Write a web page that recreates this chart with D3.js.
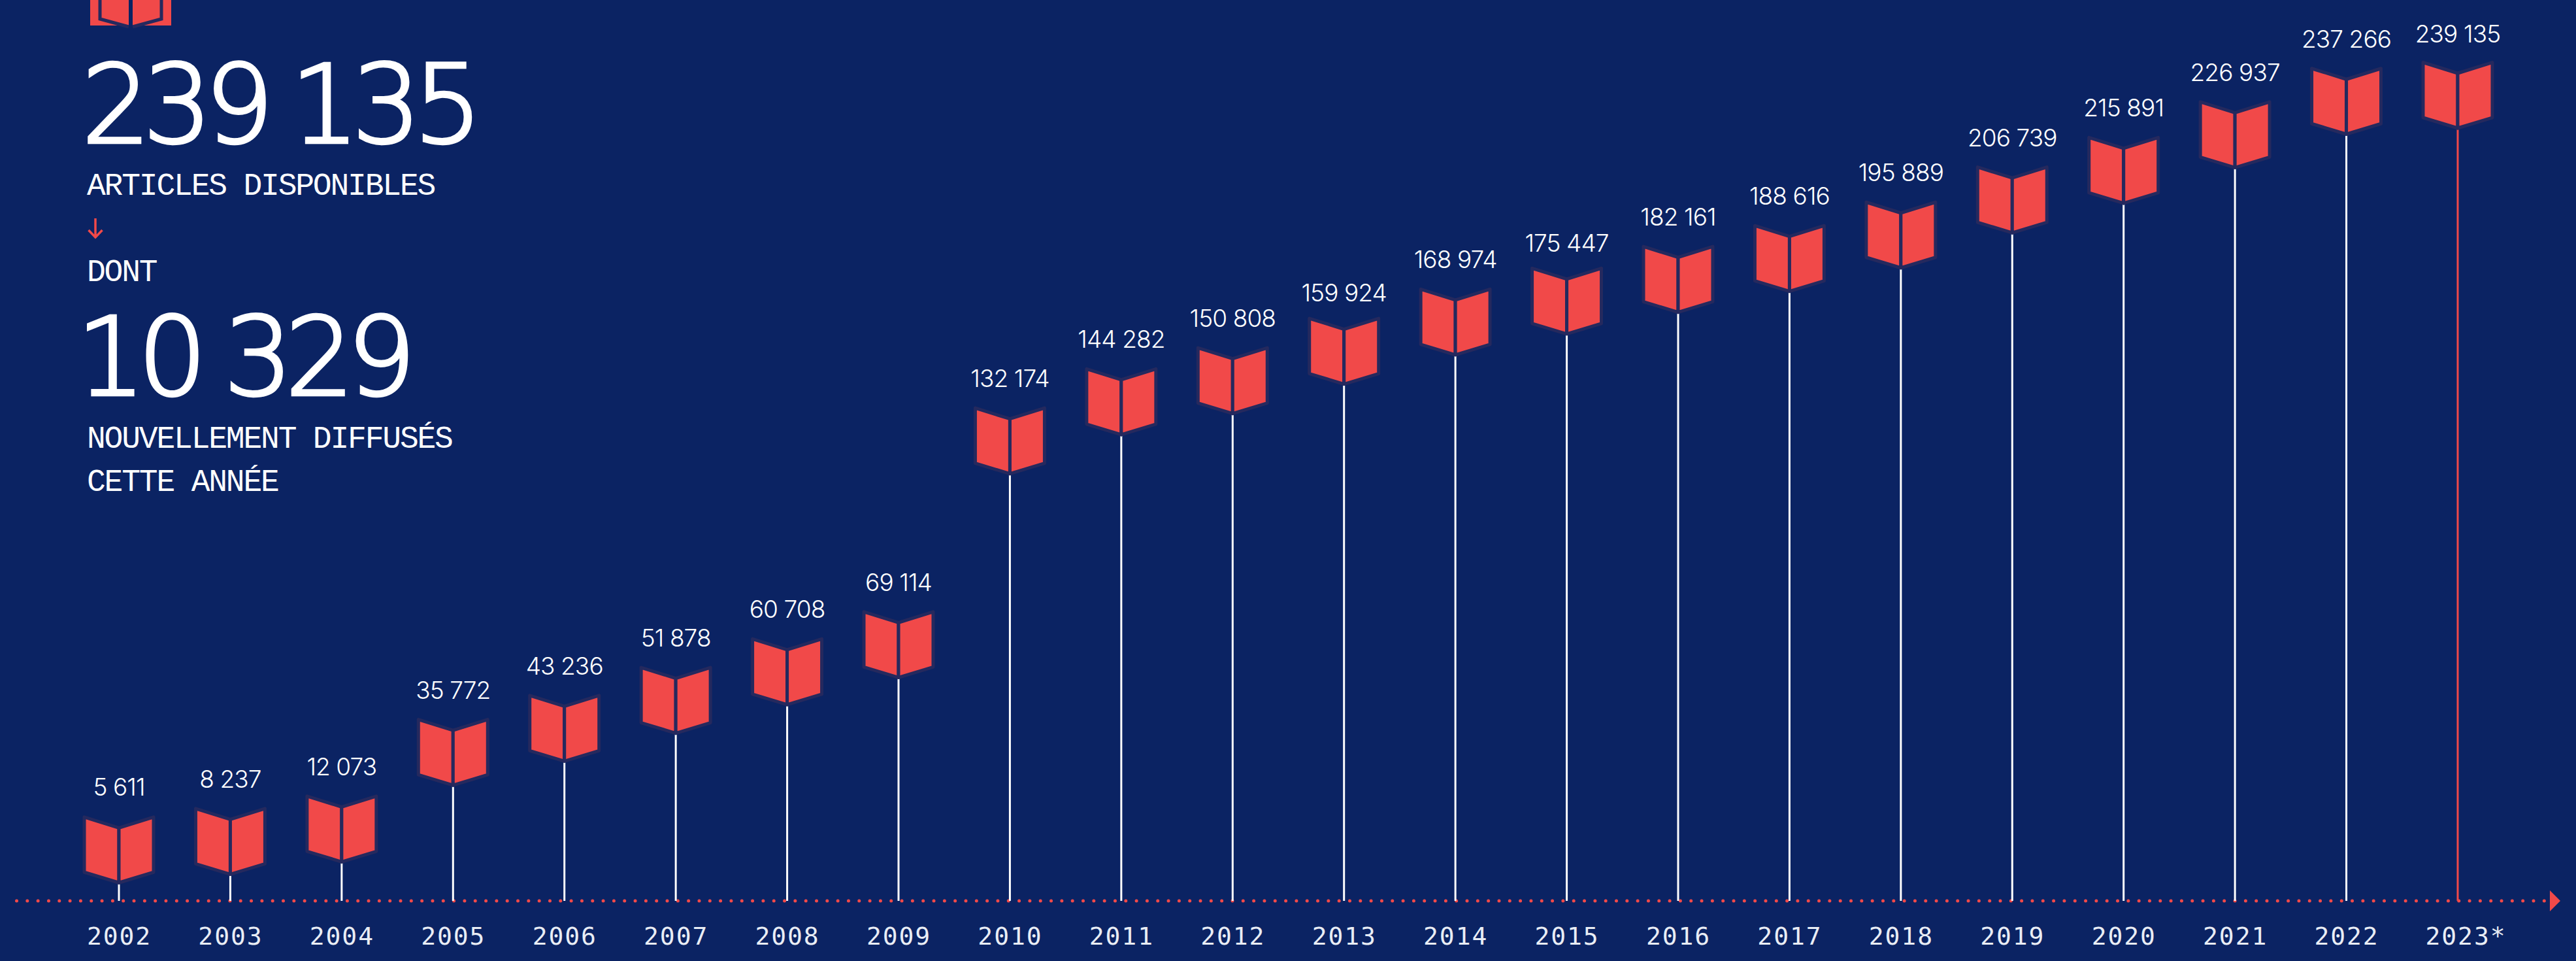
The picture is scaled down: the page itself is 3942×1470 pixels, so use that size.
<!DOCTYPE html>
<html><head><meta charset="utf-8">
<script src="https://cdn.jsdelivr.net/npm/d3@7"></script>
<style>html,body{margin:0;padding:0;background:#0b2363;overflow:hidden}svg{display:block}</style>
</head><body><svg id="c" width="3942" height="1470"></svg>
<script>
const years=["2002","2003","2004","2005","2006","2007","2008","2009","2010","2011","2012","2013","2014","2015","2016","2017","2018","2019","2020","2021","2022","2023*"];
const values=[5611,8237,12073,35772,43236,51878,60708,69114,132174,144282,150808,159924,168974,175447,182161,188616,195889,206739,215891,226937,237266,239135];
const headline=[["239 135","big",217.5,125],["ARTICLES DISPONIBLES","cap",298,133],["DONT","cap",430,133],["10 329","big",603.5,117],["NOUVELLEMENT DIFFUSÉS","cap",685,133],["CETTE ANNÉE","cap",751,133]];
const labelNudge={"2002":-1,"2013":6,"2015":6.5,"2023*":1.5};
const NAVY="#0b2363",RED="#f14949",EDGE="#25295e";
const svg=d3.select("#c");
svg.append("rect").attr("width",3942).attr("height",1470).attr("fill",NAVY);
const x=d3.scalePoint().domain(years).range([182,3761]);
const y=d3.scaleLinear().domain([0,239135]).range([1379,197]);
const fmt=v=>{const s=String(v);return s.length>3?s.slice(0,-3)+" "+s.slice(-3):s};
const baseY=1378;
svg.append("line").attr("x1",25.5).attr("x2",3900).attr("y1",baseY).attr("y2",baseY)
 .attr("stroke",RED).attr("stroke-width",5).attr("stroke-linecap","round").attr("stroke-dasharray","0 16.32");
svg.append("path").attr("d","M3902,1362L3918,1378L3902,1394Z").attr("fill",RED);
svg.selectAll(".stem").data(values).join("line").attr("class","stem")
 .attr("x1",(d,i)=>x(years[i])).attr("x2",(d,i)=>x(years[i])).attr("y1",d=>y(d)).attr("y2",baseY)
 .attr("stroke",(d,i)=>i===values.length-1?RED:"#fff").attr("stroke-width",3);
const page=s=>`M0,-85L${s*53},-101.5L${s*53},-17L0,-1Z`;
const bookG=svg.selectAll(".book").data(values).join("g").attr("class","book")
 .attr("transform",(d,i)=>`translate(${x(years[i])},${y(d)})`);
[-1,1].forEach(s=>bookG.append("path").attr("d",page(s)).attr("fill",RED).attr("stroke",EDGE).attr("stroke-width",5).attr("stroke-linejoin","round"));
svg.selectAll(".val").data(values).join("text").attr("class","val")
 .attr("x",(d,i)=>x(years[i])).attr("y",(d,i)=>y(d)-133.5+(labelNudge[years[i]]||0)).attr("text-anchor","middle")
 .attr("font-family","Inter").attr("font-size",37).attr("font-weight",300).attr("letter-spacing",-0.9).attr("fill","#fff").text(fmt);
const ax=svg.append("g").attr("transform",`translate(0,${baseY})`).call(d3.axisBottom(x).tickSize(0).tickPadding(0));
ax.select(".domain").remove();
ax.selectAll("text").attr("dy",0).attr("y",67).attr("dx",d=>d.endsWith("*")?12:0).attr("font-family","'DejaVu Sans Mono'").attr("font-size",38).attr("letter-spacing",1.9).attr("fill","#e9edf5");
svg.selectAll(".h").data(headline).join("text").attr("class","h")
 .attr("x",d=>d[3]).attr("y",d=>d[2]).attr("fill","#fff").attr("font-family",d=>d[1]==="big"?"'DejaVu Sans'":"'Liberation Mono'")
 .attr("font-weight",d=>d[1]==="big"?200:400)
 .attr("stroke",d=>d[1]==="big"?"#fff":"none").attr("stroke-width",d=>d[1]==="big"?4.5:0)
 .attr("font-size",d=>d[1]==="big"?166:48).attr("letter-spacing",d=>d[1]==="big"?-11.5:-2.2)
 .attr("word-spacing",d=>d[1]==="big"?-4:0).text(d=>d[0]);
svg.append("path").attr("d","M146,334V363M135.5,352L146,363L156.5,352").attr("fill","none").attr("stroke",RED).attr("stroke-width",3.5);
const ic=svg.append("g");
ic.append("rect").attr("x",138).attr("y",0).attr("width",124).attr("height",39).attr("fill",RED);
const ig=ic.append("g").attr("transform","translate(200,42)");
ig.append("path").attr("d","M0,-86L-47,-102L-47,-13L-3,-1M0,-86L47,-102L47,-13L3,-1").attr("fill","none").attr("stroke",EDGE).attr("stroke-width",5);
ig.append("path").attr("d","M0,-60V0").attr("stroke",NAVY).attr("stroke-width",6);
</script></body></html>
